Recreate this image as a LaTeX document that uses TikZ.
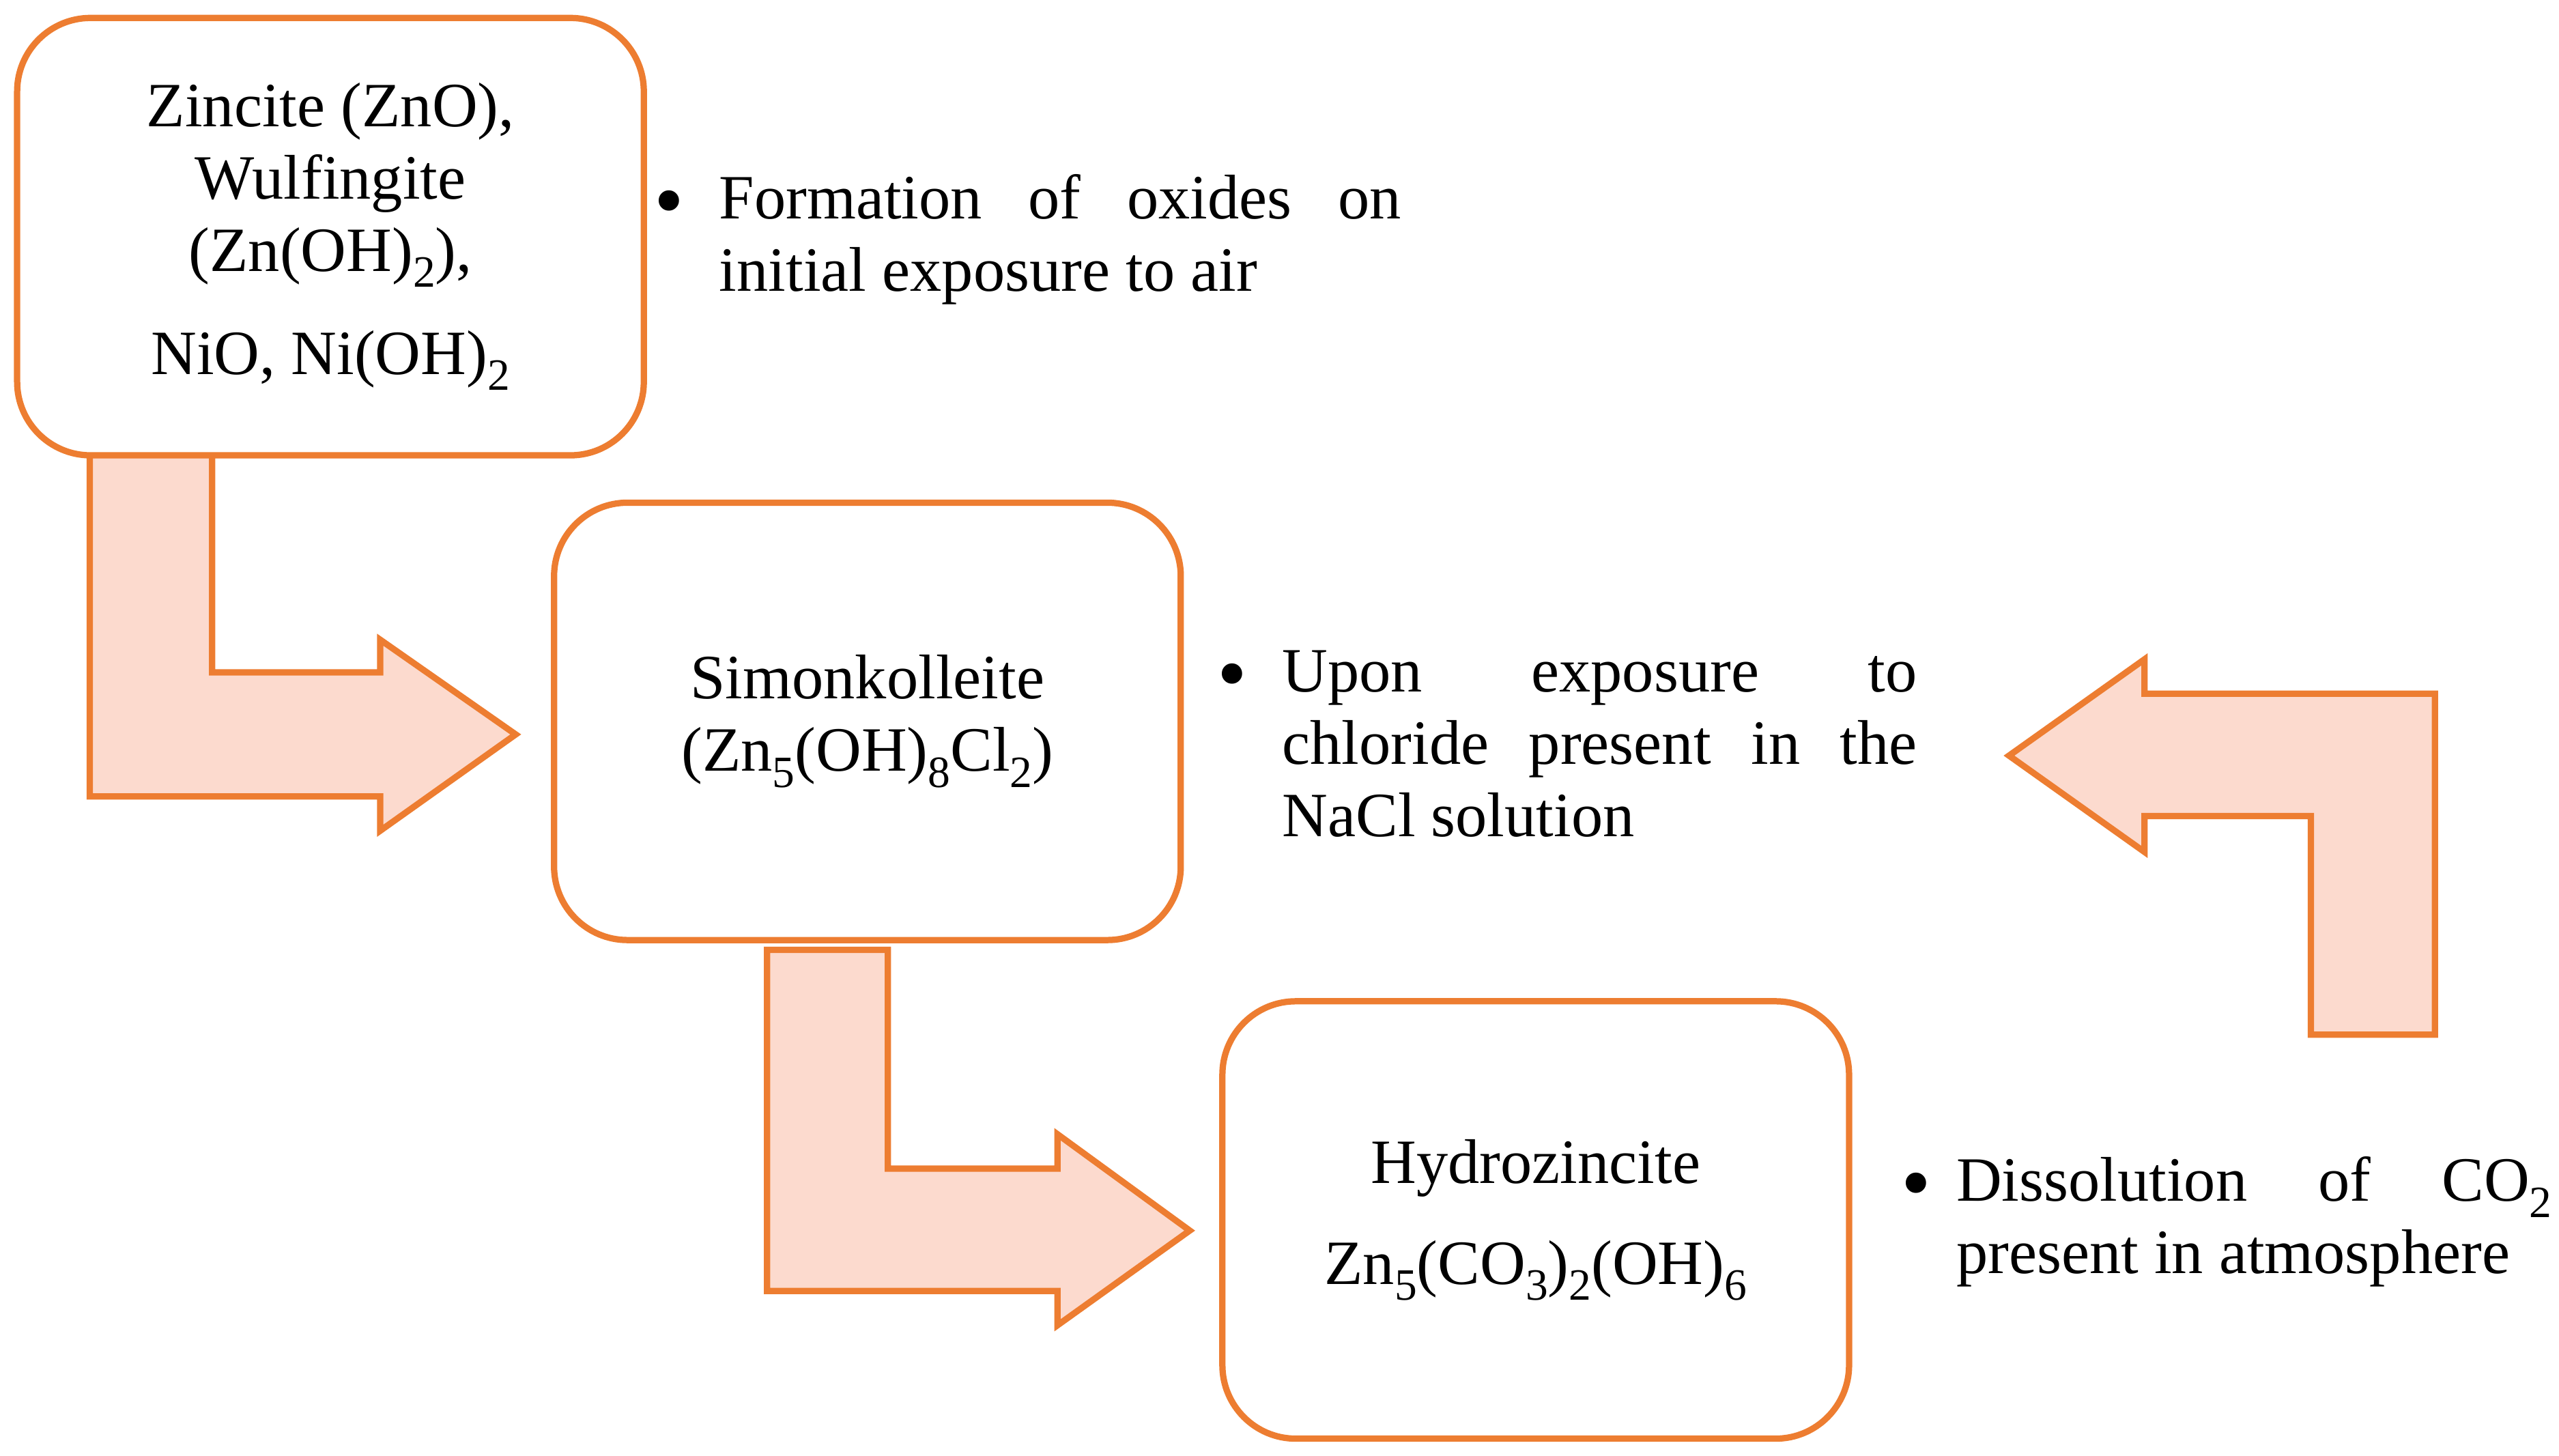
\documentclass[tikz,border=0pt]{standalone}
\usepackage{fontspec}
\setmainfont{Liberation Serif}
\definecolor{orng}{HTML}{ED7D31}
\definecolor{pch}{HTML}{FCDACE}
\newcommand{\txtsize}{\fontsize{11}{12.6}\selectfont}
\newcommand{\sbs}[1]{\raisebox{-0.55ex}{\fontsize{7.8}{8}\selectfont #1}}
\newcommand{\bigbul}{\raisebox{-0.35ex}{\scalebox{1.35}{\textbullet}}}
\tikzset{
  box/.style={draw=orng, line width=1.1pt, rounded corners=4.5mm, fill=white,
    minimum width=38.4mm, minimum height=26.8mm, align=center, inner sep=0pt,
    font=\txtsize},
  barrow/.style={draw=orng, fill=pch, line width=1.1pt, line join=miter},
  desc/.style={anchor=base west, inner sep=0pt},
  bul/.style={anchor=base, inner sep=0pt, font=\txtsize}
}
\begin{document}
\begin{tikzpicture}[x=0.1mm, y=-0.1mm]
\useasboundingbox (0,0) rectangle (1568,892);
% block arrows
\draw[barrow] (55,278) -- (130,278) -- (130,412) -- (233,412) -- (233,392)
  -- (316,450) -- (233,509) -- (233,488) -- (55,488) -- cycle;
\draw[barrow] (470,582) -- (544,582) -- (544,716) -- (648,716) -- (648,695)
  -- (729,754) -- (648,812) -- (648,791) -- (470,791) -- cycle;
\draw[barrow] (1492,425) -- (1492,634) -- (1416,634) -- (1416,500) -- (1314,500)
  -- (1314,522) -- (1231,463) -- (1314,404) -- (1314,425) -- cycle;
% boxes
\node[box] (b1) at (202.5,145) {Zincite (ZnO),\\ Wulfingite\\ (Zn(OH)\sbs{2}),\\[5.4pt] NiO, Ni(OH)\sbs{2}};
\node[box] (b2) at (531.5,442) {Simonkolleite\\ (Zn\sbs{5}(OH)\sbs{8}Cl\sbs{2})};
\node[box] (b3) at (941,747.5) {Hydrozincite\\[5pt] Zn\sbs{5}(CO\sbs{3})\sbs{2}(OH)\sbs{6}};
% descriptions
\node[bul] (d1) at (410,134) {\bigbul};
\node[desc] (t1) at (440,134) {\parbox[t]{41.8mm}{\txtsize\hyphenpenalty=10000 Formation of oxides on\linebreak initial exposure to air}};
\node[bul] (d2) at (755,424) {\bigbul};
\node[desc] (t2) at (785,424) {\parbox[t]{38.9mm}{\txtsize\hyphenpenalty=10000 Upon exposure to\linebreak chloride present in the\linebreak NaCl solution}};
\node[bul] (d3) at (1174,736) {\bigbul};
\node[desc] (t3) at (1198,736) {\parbox[t]{36.5mm}{\txtsize\hyphenpenalty=10000 Dissolution of CO\sbs{2}\linebreak present in atmosphere}};
\end{tikzpicture}
\end{document}
